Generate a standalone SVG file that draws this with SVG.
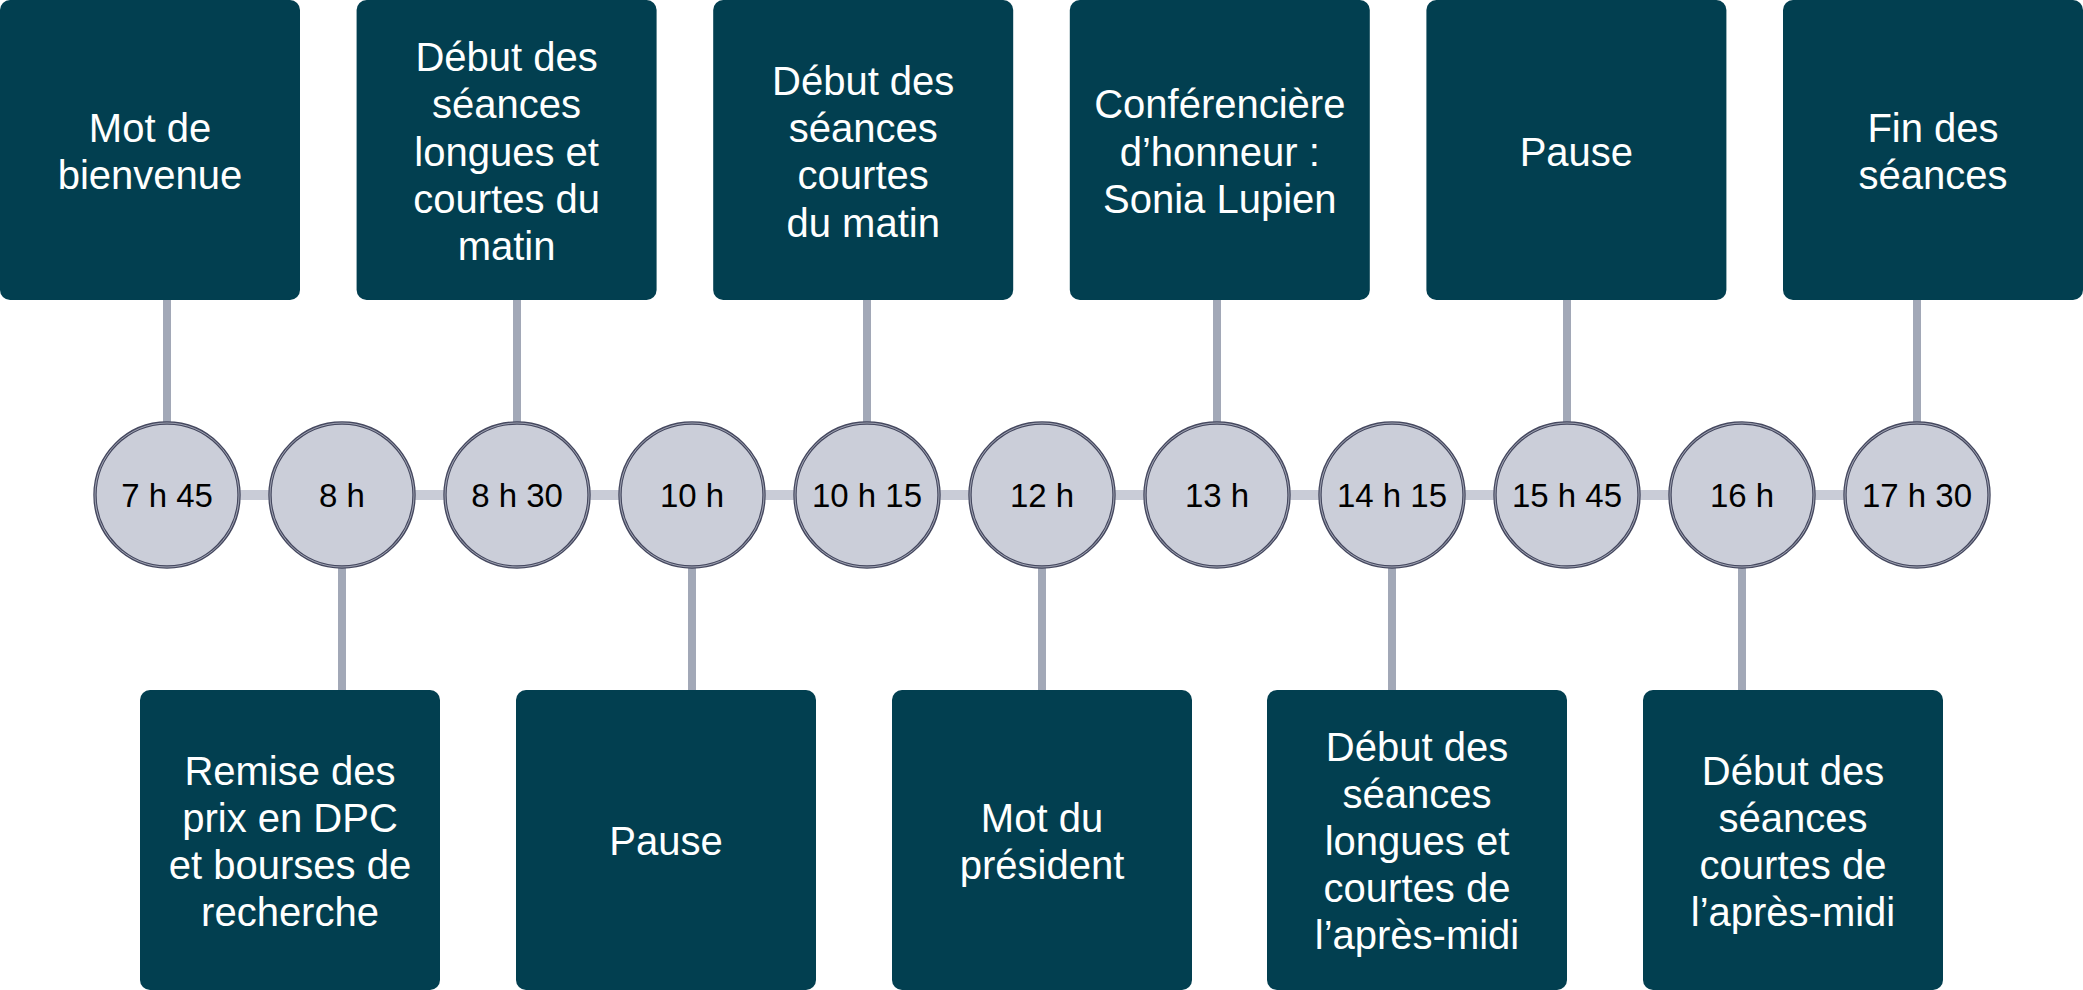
<svg xmlns="http://www.w3.org/2000/svg" width="2083" height="990" viewBox="0 0 2083 990">
<style>
.box{fill:#023f50}
.bt{font-family:"Liberation Sans",Arial,sans-serif;font-size:40px;fill:#ffffff;text-anchor:middle}
.tt{font-family:"Liberation Sans",Arial,sans-serif;font-size:33px;fill:#000000;text-anchor:middle}
.dot{fill:#cbced9;stroke:#45485f;stroke-width:3.4}
.dot2{fill:none;stroke:#b9bcca;stroke-width:0.8}
.conn{stroke:#a2a8b7;stroke-width:8;fill:none}
.axis{stroke:#c9ccd7;stroke-width:10;fill:none}
</style>
<rect width="2083" height="990" fill="#ffffff"/>
<g id="connectors">
<line class="axis" x1="167" y1="495" x2="1917" y2="495"/>
<line class="conn" x1="167" y1="300" x2="167" y2="424"/>
<line class="conn" x1="517" y1="300" x2="517" y2="424"/>
<line class="conn" x1="867" y1="300" x2="867" y2="424"/>
<line class="conn" x1="1217" y1="300" x2="1217" y2="424"/>
<line class="conn" x1="1567" y1="300" x2="1567" y2="424"/>
<line class="conn" x1="1917" y1="300" x2="1917" y2="424"/>
<line class="conn" x1="342" y1="566" x2="342" y2="690"/>
<line class="conn" x1="692" y1="566" x2="692" y2="690"/>
<line class="conn" x1="1042" y1="566" x2="1042" y2="690"/>
<line class="conn" x1="1392" y1="566" x2="1392" y2="690"/>
<line class="conn" x1="1742" y1="566" x2="1742" y2="690"/>
</g>
<g id="t0745"><circle class="dot" cx="167" cy="495" r="72"/><circle class="dot2" cx="167" cy="495" r="72"/><text class="tt" x="167" y="507">7 h 45</text></g>
<g id="t0800"><circle class="dot" cx="342" cy="495" r="72"/><circle class="dot2" cx="342" cy="495" r="72"/><text class="tt" x="342" y="507">8 h</text></g>
<g id="t0830"><circle class="dot" cx="517" cy="495" r="72"/><circle class="dot2" cx="517" cy="495" r="72"/><text class="tt" x="517" y="507">8 h 30</text></g>
<g id="t1000"><circle class="dot" cx="692" cy="495" r="72"/><circle class="dot2" cx="692" cy="495" r="72"/><text class="tt" x="692" y="507">10 h</text></g>
<g id="t1015"><circle class="dot" cx="867" cy="495" r="72"/><circle class="dot2" cx="867" cy="495" r="72"/><text class="tt" x="867" y="507">10 h 15</text></g>
<g id="t1200"><circle class="dot" cx="1042" cy="495" r="72"/><circle class="dot2" cx="1042" cy="495" r="72"/><text class="tt" x="1042" y="507">12 h</text></g>
<g id="t1300"><circle class="dot" cx="1217" cy="495" r="72"/><circle class="dot2" cx="1217" cy="495" r="72"/><text class="tt" x="1217" y="507">13 h</text></g>
<g id="t1415"><circle class="dot" cx="1392" cy="495" r="72"/><circle class="dot2" cx="1392" cy="495" r="72"/><text class="tt" x="1392" y="507">14 h 15</text></g>
<g id="t1545"><circle class="dot" cx="1567" cy="495" r="72"/><circle class="dot2" cx="1567" cy="495" r="72"/><text class="tt" x="1567" y="507">15 h 45</text></g>
<g id="t1600"><circle class="dot" cx="1742" cy="495" r="72"/><circle class="dot2" cx="1742" cy="495" r="72"/><text class="tt" x="1742" y="507">16 h</text></g>
<g id="t1730"><circle class="dot" cx="1917" cy="495" r="72"/><circle class="dot2" cx="1917" cy="495" r="72"/><text class="tt" x="1917" y="507">17 h 30</text></g>

<g id="box-bienvenue"><rect class="box" x="0" y="0" width="300" height="300" rx="10"/>
<text class="bt" x="150" y="142">Mot de</text><text class="bt" x="150" y="189">bienvenue</text></g>
<g id="box-longues-matin"><rect class="box" x="356.6" y="0" width="300" height="300" rx="10"/>
<text class="bt" x="506.6" y="71">Début des</text><text class="bt" x="506.6" y="118">séances</text><text class="bt" x="506.6" y="165.5">longues et</text><text class="bt" x="506.6" y="213">courtes du</text><text class="bt" x="506.6" y="260">matin</text></g>
<g id="box-courtes-matin"><rect class="box" x="713.2" y="0" width="300" height="300" rx="10"/>
<text class="bt" x="863.2" y="95">Début des</text><text class="bt" x="863.2" y="142">séances</text><text class="bt" x="863.2" y="189">courtes</text><text class="bt" x="863.2" y="236.5">du matin</text></g>
<g id="box-conference"><rect class="box" x="1069.8" y="0" width="300" height="300" rx="10"/>
<text class="bt" x="1219.8" y="118">Conférencière</text><text class="bt" x="1219.8" y="165.5">d’honneur :</text><text class="bt" x="1219.8" y="213">Sonia Lupien</text></g>
<g id="box-pause-pm"><rect class="box" x="1426.4" y="0" width="300" height="300" rx="10"/>
<text class="bt" x="1576.4" y="165.5">Pause</text></g>
<g id="box-fin"><rect class="box" x="1783" y="0" width="300" height="300" rx="10"/>
<text class="bt" x="1933" y="142">Fin des</text><text class="bt" x="1933" y="189">séances</text></g>

<g id="box-prix"><rect class="box" x="140" y="690" width="300" height="300" rx="10"/>
<text class="bt" x="290" y="784.5">Remise des</text><text class="bt" x="290" y="831.5">prix en DPC</text><text class="bt" x="290" y="878.5">et bourses de</text><text class="bt" x="290" y="925.5">recherche</text></g>
<g id="box-pause-am"><rect class="box" x="516" y="690" width="300" height="300" rx="10"/>
<text class="bt" x="666" y="855">Pause</text></g>
<g id="box-president"><rect class="box" x="892" y="690" width="300" height="300" rx="10"/>
<text class="bt" x="1042" y="831.5">Mot du</text><text class="bt" x="1042" y="878.5">président</text></g>
<g id="box-longues-pm"><rect class="box" x="1267" y="690" width="300" height="300" rx="10"/>
<text class="bt" x="1417" y="761">Début des</text><text class="bt" x="1417" y="808">séances</text><text class="bt" x="1417" y="855">longues et</text><text class="bt" x="1417" y="902">courtes de</text><text class="bt" x="1417" y="949">l’après-midi</text></g>
<g id="box-courtes-pm"><rect class="box" x="1643" y="690" width="300" height="300" rx="10"/>
<text class="bt" x="1793" y="784.5">Début des</text><text class="bt" x="1793" y="831.5">séances</text><text class="bt" x="1793" y="878.5">courtes de</text><text class="bt" x="1793" y="925.5">l’après-midi</text></g>
</svg>
